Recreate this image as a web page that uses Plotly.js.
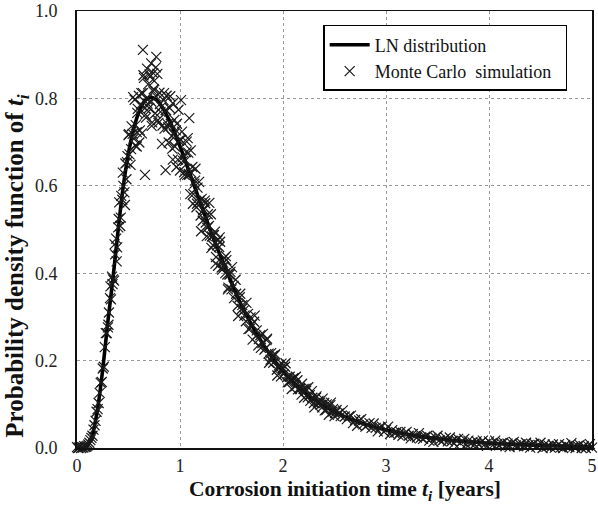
<!DOCTYPE html>
<html>
<head>
<meta charset="utf-8">
<script src="https://cdn.plot.ly/plotly-3.0.1.min.js"></script>
<style>
  html, body { margin: 0; padding: 0; background: #fff; }
  #chart { width: 598px; height: 513px; }
</style>
</head>
<body>
<div id="chart"></div>
<script>
// Fitted LN distribution
const lnT = [0,0.05,0.10,0.15,0.20,0.25,0.30,0.35,0.40,0.45,0.50,0.55,0.60,0.65,0.70,0.75,0.80,0.90,1.00,1.10,1.20,1.30,1.40,1.50,1.60,1.80,2.00,2.25,2.50,2.75,3.00,3.50,4.00,4.50,5.00];
const lnPdf = [0,0.000,0.005,0.030,0.090,0.180,0.290,0.390,0.500,0.600,0.675,0.730,0.768,0.792,0.802,0.800,0.789,0.748,0.690,0.625,0.560,0.495,0.435,0.378,0.325,0.240,0.176,0.120,0.083,0.058,0.041,0.021,0.011,0.006,0.003];

// Monte Carlo simulation points, part 1 (fine bins)
const mcX1 = [0.00,0.01,0.02,0.03,0.04,0.05,0.06,0.07,0.08,0.09,
0.10,0.11,0.12,0.13,0.14,0.15,0.16,0.17,0.18,0.19,
0.20,0.21,0.22,0.23,0.24,0.25,0.26,0.27,0.28,0.29,
0.30,0.31,0.32,0.33,0.34,0.35,0.36,0.37,0.38,0.39,
0.40,0.41,0.42,0.43,0.44,0.45,0.46,0.47,0.48,0.49,
0.50,0.51,0.52,0.53,0.54,0.55,0.56,0.57,0.58,0.59,
0.60,0.61,0.62,0.63,0.64,0.65,0.66,0.67,0.68,0.69,
0.70,0.71,0.72,0.73,0.74,0.75,0.76,0.77,0.78,0.79,
0.80,0.81,0.82,0.83,0.84,0.85,0.86,0.87,0.88,0.89,
0.90,0.91,0.92,0.93,0.94,0.95,0.96,0.97,0.98,0.99,
1.00,1.01,1.02,1.03,1.04,1.05,1.06,1.07,1.08,1.09,
1.10,1.11,1.12,1.13,1.14,1.15,1.16,1.17,1.18,1.19,
1.20,1.21,1.22,1.23,1.24,1.25,1.26,1.27,1.28,1.29,
1.30,1.31,1.32,1.33,1.34,1.35,1.36,1.37,1.38,1.39,
1.40,1.41,1.42,1.43,1.44,1.45,1.46,1.47,1.48,1.49,1.50];
const mcY1 = [0.002,0.000,0.001,0.003,0.000,0.002,0.001,0.004,0.002,0.003,
0.005,0.008,0.012,0.018,0.023,0.028,0.042,0.052,0.062,0.083,
0.089,0.103,0.126,0.149,0.151,0.182,0.186,0.231,0.263,0.263,
0.276,0.310,0.343,0.340,0.392,0.386,0.383,0.443,0.479,0.459,
0.505,0.562,0.508,0.577,0.568,0.600,0.585,0.651,0.615,0.668,
0.716,0.672,0.648,0.736,0.719,0.708,0.797,0.739,0.723,0.776,
0.806,0.727,0.786,0.720,0.812,0.847,0.778,0.756,0.798,0.832,
0.778,0.850,0.793,0.745,0.816,0.840,0.766,0.804,0.856,0.744,
0.813,0.769,0.781,0.738,0.796,0.731,0.773,0.806,0.741,0.699,
0.778,0.742,0.714,0.789,0.718,0.690,0.727,0.742,0.660,0.703,
0.635,0.705,0.724,0.657,0.631,0.657,0.677,0.625,0.676,0.625,
0.581,0.630,0.643,0.581,0.605,0.639,0.551,0.596,0.562,0.566,
0.532,0.570,0.520,0.545,0.566,0.516,0.485,0.535,0.508,0.486,
0.535,0.484,0.464,0.487,0.495,0.437,0.464,0.417,0.460,0.472,
0.426,0.408,0.424,0.435,0.400,0.430,0.397,0.367,0.397,0.403,0.363];

// Monte Carlo simulation points, part 2 (tail)
const mcX2 = [1.52,1.54,1.56,1.58,1.60,1.62,1.64,1.66,1.68,1.70,
1.72,1.74,1.76,1.78,1.80,1.82,1.84,1.86,1.88,1.90,
1.92,1.94,1.96,1.98,2.00,2.02,2.04,2.06,2.08,2.10,
2.12,2.14,2.16,2.18,2.20,2.22,2.24,2.26,2.28,2.30,
2.32,2.34,2.36,2.38,2.40,2.42,2.44,2.46,2.48,2.50,
2.52,2.54,2.56,2.58,2.60,2.62,2.64,2.66,2.68,2.70,
2.72,2.74,2.76,2.78,2.80,2.82,2.84,2.86,2.88,2.90,
2.92,2.94,2.96,2.98,3.00,3.02,3.04,3.06,3.08,3.10,
3.12,3.14,3.16,3.18,3.20,3.22,3.24,3.26,3.28,3.30,
3.32,3.34,3.36,3.38,3.40,3.42,3.44,3.46,3.48,3.50,
3.52,3.54,3.56,3.58,3.60,3.62,3.64,3.66,3.68,3.70,
3.72,3.74,3.76,3.78,3.80,3.82,3.84,3.86,3.88,3.90,
3.92,3.94,3.96,3.98,4.00,4.02,4.04,4.06,4.08,4.10,
4.12,4.14,4.16,4.18,4.20,4.22,4.24,4.26,4.28,4.30,
4.32,4.34,4.36,4.38,4.40,4.42,4.44,4.46,4.48,4.50,
4.52,4.54,4.56,4.58,4.60,4.62,4.64,4.66,4.68,4.70,
4.72,4.74,4.76,4.78,4.80,4.82,4.84,4.86,4.88,4.90,
4.92,4.94,4.96,4.98,5.00];
const mcY2 = [0.371,0.385,0.325,0.345,0.318,0.315,0.290,0.307,0.273,0.283,
0.289,0.257,0.235,0.258,0.240,0.225,0.247,0.216,0.202,0.211,
0.212,0.179,0.189,0.164,0.183,0.186,0.162,0.151,0.156,0.160,
0.141,0.155,0.137,0.122,0.135,0.136,0.116,0.121,0.130,0.103,
0.115,0.104,0.104,0.093,0.103,0.087,0.094,0.098,0.083,0.073,
0.087,0.079,0.073,0.086,0.072,0.066,0.072,0.074,0.057,0.064,
0.051,0.063,0.066,0.054,0.049,0.053,0.057,0.046,0.056,0.046,
0.038,0.047,0.049,0.037,0.042,0.049,0.032,0.041,0.035,0.036,
0.030,0.037,0.028,0.033,0.037,0.028,0.022,0.032,0.027,0.024,
0.034,0.024,0.021,0.026,0.028,0.017,0.023,0.014,0.024,0.028,
0.018,0.015,0.019,0.023,0.015,0.024,0.016,0.010,0.018,0.021,
0.011,0.016,0.021,0.008,0.017,0.011,0.013,0.008,0.015,0.008,
0.013,0.017,0.009,0.005,0.015,0.010,0.007,0.017,0.009,0.006,
0.011,0.013,0.004,0.010,0.002,0.011,0.014,0.006,0.004,0.008,
0.010,0.004,0.012,0.006,0.001,0.008,0.010,0.003,0.007,0.012,
0.000,0.008,0.003,0.005,0.001,0.008,0.001,0.005,0.009,0.002,
0.000,0.007,0.004,0.002,0.011,0.003,0.000,0.005,0.007,0.000,
0.004,0.000,0.005,0.009,0.001];

// Monte Carlo simulation points, part 3 (second sample, offset bins)
const mcX4 = [0.305,0.325,0.345,0.365,0.385,0.405,0.425,0.445,0.465,0.485,
0.505,0.525,0.545,0.565,0.585,0.605,0.625,0.645,0.665,0.685,
0.705,0.725,0.745,0.765,0.785,0.805,0.825,0.845,0.865,0.885,
0.905,0.925,0.945,0.965,0.985,1.005,1.025,1.045,1.065,1.085,
1.105,1.125,1.145,1.165,1.185,1.205,1.225,1.245,1.265,1.285,
1.305,1.325,1.345,1.365,1.385,1.405,1.425,1.445,1.465,1.485,
1.505,1.525,1.545,1.565,1.585,1.605,1.625,1.645,1.665,1.685,
1.705,1.725,1.745,1.765,1.785,1.805,1.825,1.845,1.865,1.885,
1.905,1.925,1.945,1.965,1.985,2.005,2.025,2.045,2.065,2.085,
2.105,2.125,2.145,2.165,2.185,2.205,2.225,2.245,2.265,2.285,
2.305,2.325,2.345,2.365,2.385,2.405,2.425,2.445,2.465,2.485,2.505];
const mcY4 = [0.282,0.370,0.375,0.466,0.427,0.524,0.527,0.630,0.556,0.654,
0.718,0.684,0.803,0.692,0.767,0.699,0.812,0.853,0.763,0.788,
0.855,0.737,0.821,0.871,0.750,0.787,0.696,0.812,0.773,0.734,
0.805,0.685,0.751,0.643,0.774,0.705,0.665,0.625,0.701,0.627,
0.681,0.559,0.612,0.559,0.609,0.496,0.544,0.560,0.504,0.561,
0.458,0.487,0.422,0.475,0.482,0.413,0.415,0.439,0.363,0.398,
0.414,0.343,0.353,0.302,0.353,0.327,0.303,0.332,0.272,0.299,
0.248,0.303,0.269,0.249,0.229,0.261,0.227,0.250,0.195,0.217,
0.195,0.215,0.166,0.186,0.193,0.169,0.194,0.150,0.163,0.135,
0.159,0.163,0.134,0.135,0.147,0.115,0.131,0.139,0.108,0.115,
0.093,0.118,0.108,0.099,0.113,0.086,0.100,0.076,0.104,0.089,0.080];

// Scattered outliers around the peak
const mcX3 = [0.64,0.77,0.72,0.68,0.74,0.66,0.86,1.01,1.09,1.075,0.93,0.58];
const mcY3 = [0.911,0.895,0.880,0.868,0.858,0.625,0.636,0.796,0.755,0.709,0.660,0.690];

const xTicks = [0,1,2,3,4,5];
const yTicks = [0.0,0.2,0.4,0.6,0.8,1.0];

const serif = '"Liberation Serif", "Times New Roman", serif';

const traces = [
  {
    x: lnT, y: lnPdf,
    type: 'scatter', mode: 'lines',
    name: 'LN distribution',
    legendgroup: 'a',
    line: { color: '#000', width: 3.6, shape: 'spline', smoothing: 0.8 },
    cliponaxis: false
  },
  {
    x: mcX1.concat(mcX2, mcX4, mcX3),
    y: mcY1.concat(mcY2, mcY4, mcY3),
    type: 'scatter', mode: 'markers',
    name: 'Monte Carlo  simulation\u00a0\u00a0',
    legendgroup: 'b',
    marker: { symbol: 'x-thin', size: 10, color: '#1a1a1a', line: { color: '#1a1a1a', width: 1.2 } },
    cliponaxis: false
  }
];

const layout = {
  width: 598, height: 513,
  margin: { l: 77, r: 6, t: 11, b: 65 },
  paper_bgcolor: '#fff', plot_bgcolor: '#fff',
  font: { family: serif, color: '#111', size: 17 },
  showlegend: true,
  legend: {
    x: 0.478, y: 0.968, xanchor: 'left', yanchor: 'top',
    bgcolor: '#fff', bordercolor: '#000', borderwidth: 1.5,
    font: { family: serif, size: 18, color: '#111' },
    traceorder: 'grouped', tracegroupgap: 0, itemwidth: 40
  },
  xaxis: {
    range: [0, 5],
    tickvals: xTicks, ticktext: xTicks.map(String),
    showgrid: true, gridcolor: '#999', griddash: 'dot', gridwidth: 1,
    zeroline: false,
    showline: true, linecolor: '#111', linewidth: 1.5, mirror: true,
    ticks: '', ticklabelstandoff: 1,
    tickfont: { family: serif, size: 18, color: '#222' }
  },
  yaxis: {
    range: [0, 1],
    tickvals: yTicks, ticktext: yTicks.map(v => v.toFixed(1)),
    showgrid: true, gridcolor: '#999', griddash: 'dot', gridwidth: 1,
    zeroline: false,
    showline: true, linecolor: '#111', linewidth: 2, mirror: true,
    ticks: '', ticklabelstandoff: 14,
    tickfont: { family: serif, size: 18, color: '#222' }
  },
  annotations: [
    {
      text: '<b>Corrosion initiation time <i>t</i><sub><i>i</i></sub> [years]</b>',
      xref: 'paper', yref: 'paper', x: 0.52, y: -0.097,
      xanchor: 'center', yanchor: 'middle', showarrow: false,
      font: { family: serif, size: 21.5, color: '#111' }
    },
    {
      text: '<b>Probability density function of <i>t</i><sub><i>i</i></sub></b>',
      xref: 'paper', yref: 'paper', x: -0.1165, y: 0.415,
      xanchor: 'center', yanchor: 'middle', showarrow: false, textangle: -90,
      font: { family: serif, size: 25, color: '#111' }
    }
  ]
};

Plotly.newPlot('chart', traces, layout, { displayModeBar: false, staticPlot: true });
</script>
</body>
</html>
